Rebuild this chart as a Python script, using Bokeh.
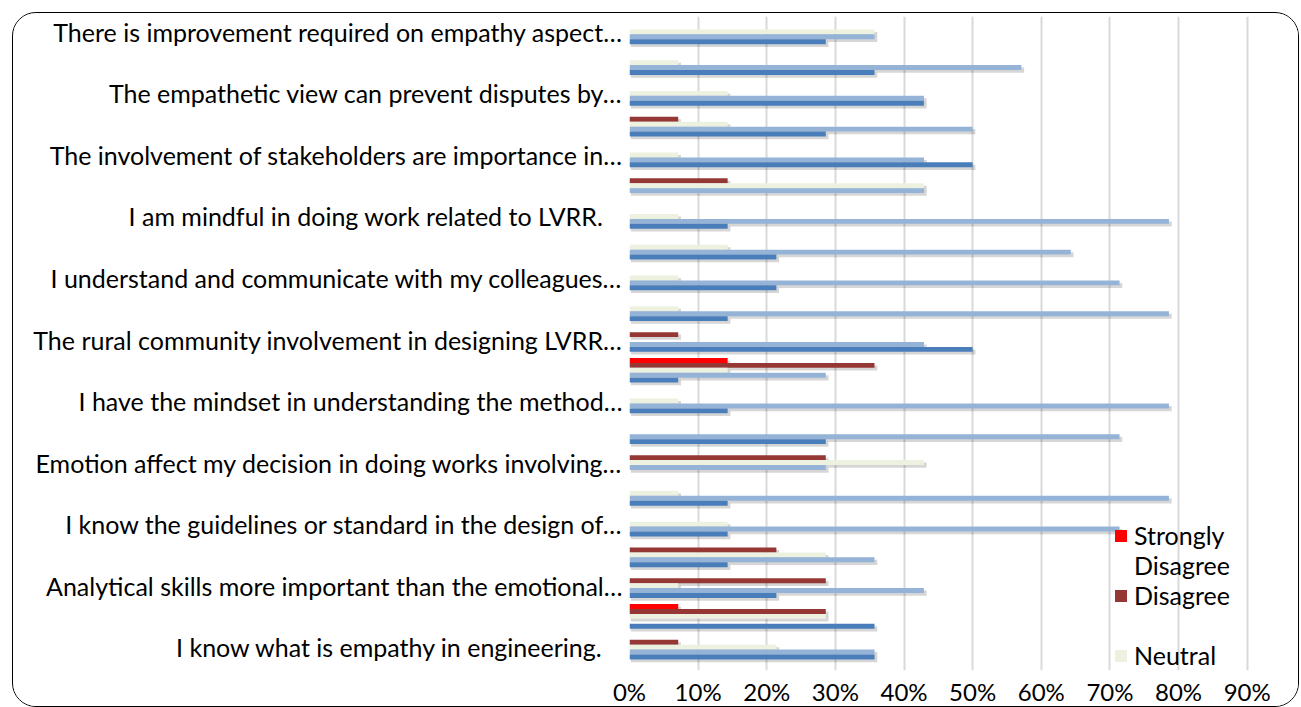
from bokeh.plotting import figure
from bokeh.models import (Range1d, FixedTicker, NumeralTickFormatter, Legend,
                          LegendItem, ColumnDataSource)
from bokeh.embed import file_html
from bokeh.resources import INLINE

# ---- data (percent of respondents), categories listed top to bottom ----
n_categories = 21
label_positions = [0, 2, 4, 6, 8, 10, 12, 14, 16, 18, 20]
label_texts = [
    "There is improvement required on empathy aspect…",
    "The empathetic view can prevent disputes by…",
    "The involvement of stakeholders are importance in…",
    "I am mindful in doing work related to LVRR.\u00a0\u00a0\u00a0",
    "I understand and communicate with my colleagues…",
    "The rural community involvement in designing LVRR…",
    "I have the mindset in understanding the method…",
    "Emotion affect my decision in doing works involving…",
    "I know the guidelines or standard in the design of…",
    "Analytical skills more important than the emotional…",
    "I know what is empathy in engineering.\u00a0\u00a0\u00a0",
]
strongly_disagree = [0, 0, 0, 0, 0, 0, 0, 0, 0, 0, 0, 14.3, 0, 0, 0, 0, 0, 0, 0, 7.1, 0]
disagree = [0, 0, 0, 7.1, 0, 14.3, 0, 0, 0, 0, 7.1, 35.7, 0, 0, 28.6, 0, 0, 21.4, 28.6, 28.6, 7.1]
neutral = [35.7, 7.1, 14.3, 14.3, 7.1, 42.9, 7.1, 14.3, 7.1, 7.1, 0, 14.3, 7.1, 0, 42.9, 7.1, 14.3, 28.6, 7.1, 28.6, 21.4]
agree = [35.7, 57.1, 42.9, 50.0, 42.9, 42.9, 78.6, 64.3, 71.4, 78.6, 42.9, 28.6, 78.6, 71.4, 28.6, 78.6, 71.4, 35.7, 42.9, 0, 35.7]
strongly_agree = [28.6, 35.7, 42.9, 28.6, 50.0, 0, 14.3, 21.4, 21.4, 14.3, 50.0, 7.1, 14.3, 28.6, 0, 14.3, 14.3, 14.3, 21.4, 35.7, 35.7]
series_names = ["Strongly Disagree", "Disagree", "Neutral", "Agree", "Strongly Agree"]
legend_labels = ["\nStrongly\nDisagree", "Disagree", "\nNeutral\n\u200b"]
x_ticks = [0, 10, 20, 30, 40, 50, 60, 70, 80, 90]

series_values = [strongly_disagree, disagree, neutral, agree, strongly_agree]
colors = ["#FF0000", "#953735", "#ECF1E0", "#95B3D7", "#4A7EBB"]
offsets = [-0.32, -0.16, 0.0, 0.16, 0.32]
bar_h = 0.16
FONT = "Lato"

p = figure(width=1287, height=695, output_backend="svg", toolbar_location=None,
           x_range=Range1d(0, 0.95), y_range=Range1d(n_categories - 0.5 + 0.259, -0.5),
           min_border_left=616, min_border_right=19, min_border_top=3,
           min_border_bottom=36)
p.margin = (12, 0, 0, 12)
p.styles = {"border": "1.3px solid #000000", "border-radius": "24px",
            "overflow": "hidden", "box-sizing": "border-box"}
p.outline_line_color = None
p.background_fill_color = "white"
p.border_fill_color = "white"

# shadows
for vals, off in zip(series_values, offsets):
    ys = [i + off + 0.085 for i, v in enumerate(vals) if v > 0]
    rs = [v / 100 + 0.004 for v in vals if v > 0]
    src = ColumnDataSource(dict(y=ys, right=rs))
    p.hbar(y="y", left=0.002, right="right", height=bar_h * 1.05, source=src,
           fill_color="#000000", fill_alpha=0.16, line_color=None)

renderers = []
for name, vals, off, col in zip(series_names, series_values, offsets, colors):
    src = ColumnDataSource(dict(y=[i + off for i in range(n_categories)],
                                right=[v / 100 for v in vals]))
    r = p.hbar(y="y", left=0, right="right", height=bar_h, source=src,
               fill_color=col, line_color=None)
    renderers.append(r)

# axes
p.xaxis.ticker = FixedTicker(ticks=[t / 100 for t in x_ticks])
p.xaxis.formatter = NumeralTickFormatter(format="0%")
p.xaxis.axis_line_color = None
p.xaxis.major_tick_line_color = None
p.xaxis.minor_tick_line_color = None
p.xaxis.major_tick_out = 0
p.xaxis.minor_tick_out = 0
p.xaxis.major_label_standoff = 6
p.xaxis.major_label_text_font = FONT
p.xaxis.major_label_text_font_size = "24px"
p.xaxis.major_label_text_color = "#000000"

p.yaxis.ticker = FixedTicker(ticks=label_positions)
p.yaxis.major_label_overrides = {pos: txt for pos, txt in zip(label_positions, label_texts)}
p.yaxis.axis_line_color = None
p.yaxis.major_tick_line_color = None
p.yaxis.minor_tick_line_color = None
p.yaxis.major_tick_out = 0
p.yaxis.minor_tick_out = 0
p.yaxis.major_label_standoff = 7
p.yaxis.major_label_text_font = FONT
p.yaxis.major_label_text_font_size = "25px"
p.yaxis.major_label_text_color = "#000000"

p.xgrid.ticker = FixedTicker(ticks=[t / 100 for t in x_ticks])
p.xgrid.grid_line_color = "#D9D9D9"
p.xgrid.grid_line_width = 2
p.ygrid.grid_line_color = None

legend = Legend(items=[
    LegendItem(label=legend_labels[i], renderers=[renderers[i]]) for i in range(3)
], location=(484, -30), orientation="vertical")
legend.background_fill_alpha = 0
legend.border_line_color = None
legend.padding = 0
legend.margin = 0
legend.spacing = 0
legend.glyph_width = 15
legend.glyph_height = 15
legend.label_standoff = 6
legend.label_height = 0
legend.label_text_font = FONT
legend.label_text_font_size = "25px"
legend.label_text_color = "#000000"
legend.label_text_line_height = 1.25
p.add_layout(legend)

open("out.html", "w").write(file_html(p, INLINE))
